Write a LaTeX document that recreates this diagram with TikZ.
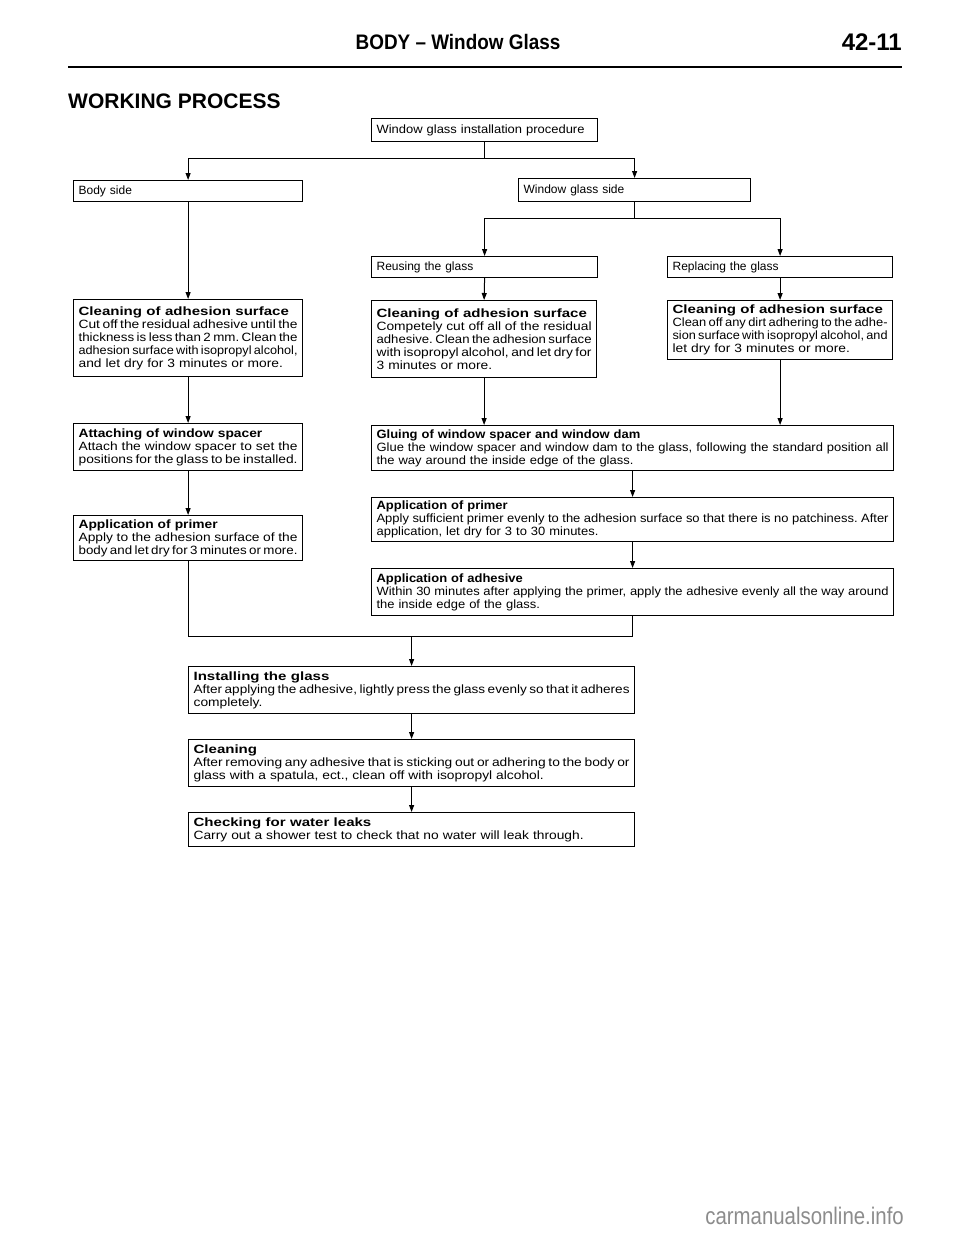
\documentclass[tikz,border=0pt]{standalone}
\usepackage{fontspec}
\setmainfont{Liberation Sans}
\newfontfamily\widefont[FakeStretch=1.15]{Liberation Sans}
\newfontfamily\medfont[FakeStretch=1.08]{Liberation Sans}
\usepackage{graphicx}
\usetikzlibrary{arrows.meta}
\frenchspacing
\newsavebox\jlbox
\newcommand\jline[1]{\leavevmode\sbox\jlbox{\spaceskip=0.21em\relax #1}\ifdim\wd\jlbox>\linewidth\resizebox{\linewidth}{\height}{\usebox\jlbox}\else\hbox to\linewidth{\spaceskip=0.278em plus 1fil minus 0.068em\relax #1}\fi}
\newcommand\wt[1]{\scalebox{1.09}[1]{\bfseries #1}}
\begin{document}
\begin{tikzpicture}[x=1pt,y=-1pt,
  box/.style={draw, line width=1.2pt, anchor=north west, inner xsep=5pt, inner ysep=1pt, align=left, font=\fontsize{12}{13}\selectfont},
  wbox/.style={box, font=\widefont\fontsize{12}{13}\selectfont},
  mbox/.style={box, font=\medfont\fontsize{12}{13}\selectfont},
  ar/.style={line width=1pt, -{Triangle[length=7pt,width=5pt]}},
  ln/.style={line width=1pt},
  ttl/.style={font=\bfseries\fontsize{21}{21}\selectfont, inner sep=0pt}]
\useasboundingbox[fill=white] (0,0) rectangle (960,1239);

% header
\node[ttl, anchor=base] (hdr) at (458,50) {\scalebox{0.9}[1]{BODY – Window Glass}};
\node[ttl, font=\bfseries\fontsize{24}{24}\selectfont, anchor=base east] (pg) at (902,51) {42-11};
\draw[line width=2.6pt] (68,67) -- (902,67);
\node[ttl, anchor=base west] (wp) at (68,108) {WORKING PROCESS};

% boxes
\node[mbox, text width=216pt, minimum height=23pt] (wgip) at (371,118) {Window glass installation procedure};
\node[box, text width=219pt, minimum height=21pt] (body) at (73,180) {Body side};
\node[box, text width=222pt, minimum height=23pt] (wgs) at (518,178) {Window glass side};
\node[box, text width=216pt, minimum height=21pt] (reuse) at (371,256) {Reusing the glass};
\node[box, text width=215pt, minimum height=21pt] (repl) at (667,256) {Replacing the glass};

\node[wbox, text width=219pt, minimum height=77pt] (cl1) at (73,299) {\wt{Cleaning of adhesion surface}\\
\jline{Cut off the residual adhesive until the}\\
\jline{thickness is less than 2 mm. Clean the}\\
\jline{adhesion surface with isopropyl alcohol,}\\
and let dry for 3 minutes or more.};

\node[wbox, text width=215pt, minimum height=77pt] (cl2) at (371,300) {\wt{Cleaning of adhesion surface}\\
\jline{Competely cut off all of the residual}\\
\jline{adhesive. Clean the adhesion surface}\\
\jline{with isopropyl alcohol, and let dry for}\\
3 minutes or more.};

\node[wbox, text width=215pt, minimum height=59pt] (cl3) at (667,300) {\wt{Cleaning of adhesion surface}\\
\jline{Clean off any dirt adhering to the adhe-}\\
\jline{sion surface with isopropyl alcohol, and}\\
let dry for 3 minutes or more.};

\node[wbox, text width=219pt, minimum height=47pt] (att) at (73,423) {\textbf{Attaching of window spacer}\\
\jline{Attach the window spacer to set the}\\
\jline{positions for the glass to be installed.}};

\node[mbox, text width=512pt, minimum height=45pt] (glu) at (371,425) {\textbf{Gluing of window spacer and window dam}\\
\jline{Glue the window spacer and window dam to the glass, following the standard position all}\\
the way around the inside edge of the glass.};

\node[wbox, text width=219pt, minimum height=45pt] (pr1) at (73,515) {\textbf{Application of primer}\\
\jline{Apply to the adhesion surface of the}\\
\jline{body and let dry for 3 minutes or more.}};

\node[mbox, text width=512pt, minimum height=44pt] (pr2) at (371,497) {\textbf{Application of primer}\\
\jline{Apply sufficient primer evenly to the adhesion surface so that there is no patchiness. After}\\
application, let dry for 3 to 30 minutes.};

\node[mbox, text width=512pt, minimum height=47pt] (adh) at (371,568) {\textbf{Application of adhesive}\\
\jline{Within 30 minutes after applying the primer, apply the adhesive evenly all the way around}\\
the inside edge of the glass.};

\node[wbox, text width=436pt, minimum height=47pt] (inst) at (188,666) {\wt{Installing the glass}\\
\jline{After applying the adhesive, lightly press the glass evenly so that it adheres}\\
completely.};

\node[wbox, text width=436pt, minimum height=47pt] (cln) at (188,739) {\wt{Cleaning}\\
\jline{After removing any adhesive that is sticking out or adhering to the body or}\\
glass with a spatula, ect., clean off with isopropyl alcohol.};

\node[wbox, text width=436pt, minimum height=34pt] (chk) at (188,812) {\wt{Checking for water leaks}\\
Carry out a shower test to check that no water will leak through.};

% junctions
\coordinate (j1) at (wgip.south |- 0,158);
\coordinate (j2) at (wgs.south |- 0,218);
\coordinate (j3) at (inst.north |- 0,636);

% connectors
\draw[ln] (wgip.south) -- (j1);
\draw[ar] (j1) -| (body.north);
\draw[ar] (j1) -| (wgs.north);
\draw[ln] (wgs.south) -- (j2);
\draw[ar] (j2) -| (reuse.north);
\draw[ar] (j2) -| (repl.north);
\draw[ar] (body.south) -- (cl1.north);
\draw[ar] (reuse.south) -- (cl2.north);
\draw[ar] (repl.south) -- (cl3.north);
\draw[ar] (cl1.south) -- (att.north);
\draw[ar] (cl2.south) -- (cl2.south |- glu.north);
\draw[ar] (cl3.south) -- (cl3.south |- glu.north);
\draw[ar] (att.south) -- (pr1.north);
\draw[ar] (glu.south) -- (pr2.north);
\draw[ar] (pr2.south) -- (adh.north);
\draw[ln] (pr1.south) |- (adh.south |- j3) -- (adh.south);
\draw[ar] (j3) -- (inst.north);
\draw[ar] (inst.south) -- (cln.north);
\draw[ar] (cln.south) -- (chk.north);

% watermark
\node[anchor=base east, inner sep=0pt, text=black!45, font=\fontsize{24}{24}\selectfont] (wm) at (904,1224) {\scalebox{0.85}[1]{carmanualsonline.info}};
\end{tikzpicture}
\end{document}
